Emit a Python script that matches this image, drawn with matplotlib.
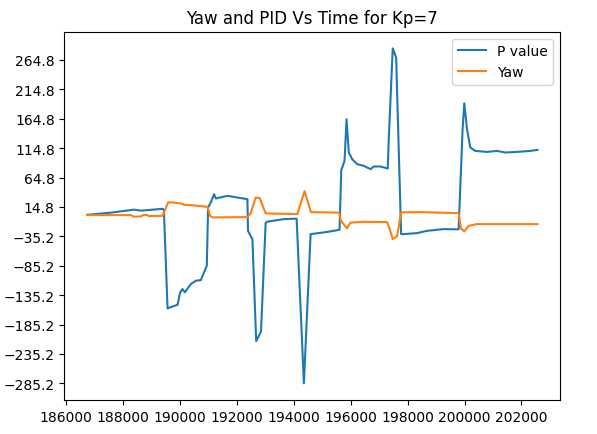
import numpy as np
import matplotlib
matplotlib.use('Agg')
import matplotlib.pyplot as plt

# time (ms) and P term
time_p = [186726, 187569, 188376, 188621, 188972, 189383, 189428, 189558, 189909, 190000,
          190084, 190165, 190376, 190551, 190727, 190938, 190983, 191078, 191193, 191253,
          191664, 192130, 192365, 192386, 192541, 192674, 192843, 193007, 193067, 193650,
          194095, 194351, 194587, 195053, 195404, 195604, 195664, 195780, 195850, 195930,
          196050, 196225, 196457, 196692, 196808, 197043, 197299, 197334, 197474, 197594,
          197769, 197860, 198331, 198682, 199264, 199790, 199930, 199990, 200085, 200201,
          200376, 200787, 201138, 201429, 201839, 202306, 202562]
p_value = [1.4, 5.1, 10.2, 8.5, 9.9, 11.6, 10.2, -157.7, -151.6, -130.5,
           -124.9, -130.5, -116.4, -110.8, -109.6, -85.3, 14.0, 22.5, 36.6, 29.2,
           33.7, 29.8, 28.1, -25.8, -39.9, -213.3, -197.1, -12.2, -10.2, -5.9,
           -5.1, -285.2, -31.4, -28.5, -25.8, -24.1, 77.3, 93.2, 164.0, 107.4,
           96.0, 87.5, 84.7, 79.0, 83.6, 83.6, 80.2, 130.0, 284.5, 268.9,
           -31.4, -31.4, -29.7, -25.8, -22.9, -23.3, 147.0, 191.2, 147.0, 115.9,
           110.1, 108.4, 110.1, 107.4, 108.4, 110.1, 111.8]

# time (ms) and yaw angle
time_yaw = [186726, 188270, 188376, 188621, 188726, 188856, 188902, 189383, 189579, 189744,
            190025, 190141, 190376, 190962, 191053, 191137, 192365, 192481, 192657, 192797,
            193007, 194119, 194375, 194597, 195587, 195657, 195861, 195990, 196457, 197278,
            197369, 197474, 197629, 197769, 198446, 199790, 199874, 199990, 200141, 200436,
            202562]
yaw = [0.9, 0.9, -1.7, -1.3, 1.4, 0.9, -0.8, -0.3, 22.5, 22.5,
       20.8, 18.4, 17.9, 15.0, -0.3, -3.0, -2.5, 3.8, 30.9, 29.8,
       3.8, 2.6, 41.7, 6.0, 5.1, -8.8, -21.7, -11.9, -10.5, -11.0,
       -23.0, -39.9, -34.8, 5.5, 6.0, 4.3, -21.7, -26.8, -17.3, -14.4,
       -14.4]

fig = plt.figure(figsize=(5.97, 4.35), dpi=100)
plt.subplots_adjust(left=0.108, right=0.938, top=0.925, bottom=0.078)
plt.plot(time_p, p_value, label='P value')
plt.plot(time_yaw, yaw, label='Yaw')
plt.yticks(np.arange(min(p_value), max(p_value), 50))
plt.title('Yaw and PID Vs Time for Kp=7')
plt.legend()
plt.savefig('out.png')
